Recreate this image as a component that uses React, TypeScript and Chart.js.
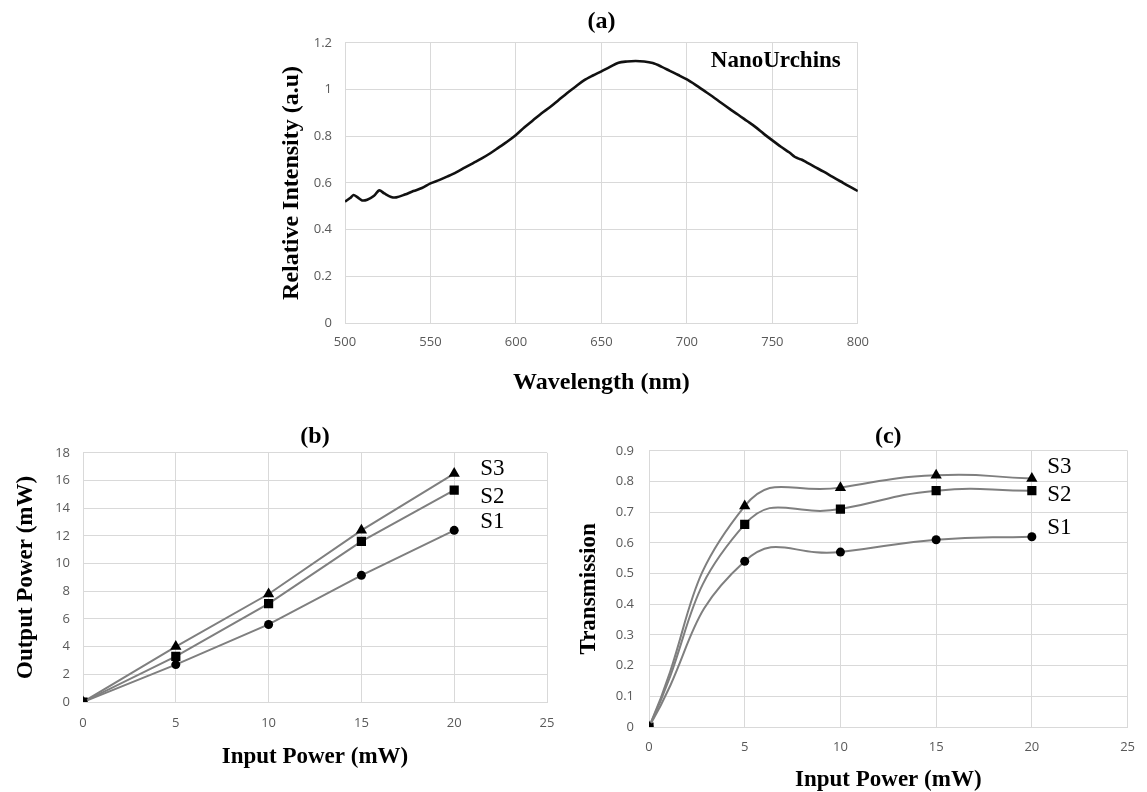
import React, { useEffect, useRef } from 'react';
import { Chart, registerables } from 'chart.js';

Chart.register(...registerables);

// ---------- Panel (a): NanoUrchins spectrum ----------
const wavelengths = [500, 503, 505, 507, 510, 513, 517, 520, 523, 527, 530, 535, 540, 545, 550, 555, 560, 565, 570, 575, 580, 585, 590, 595, 600, 605, 610, 615, 620, 625, 630, 635, 640, 645, 650, 655, 660, 665, 670, 675, 680, 685, 690, 695, 700, 705, 710, 715, 720, 725, 730, 735, 740, 745, 750, 755, 760, 763, 765, 767, 770, 775, 780, 785, 790, 795, 800];
const intensity = [0.52, 0.535, 0.548, 0.54, 0.525, 0.528, 0.545, 0.568, 0.555, 0.54, 0.538, 0.55, 0.565, 0.578, 0.598, 0.612, 0.628, 0.645, 0.665, 0.685, 0.705, 0.727, 0.752, 0.777, 0.805, 0.838, 0.868, 0.898, 0.925, 0.955, 0.985, 1.013, 1.04, 1.06, 1.078, 1.097, 1.115, 1.12, 1.122, 1.12, 1.113, 1.098, 1.08, 1.062, 1.043, 1.02, 0.995, 0.97, 0.943, 0.917, 0.892, 0.866, 0.84, 0.81, 0.782, 0.755, 0.73, 0.712, 0.705, 0.7, 0.688, 0.668, 0.648, 0.627, 0.606, 0.585, 0.565];

// ---------- Panel (b) and (c): input power series ----------
const inputPower = [0, 5, 10, 15, 20];
const outputS1 = [0, 2.7, 5.6, 9.15, 12.4];
const outputS2 = [0, 3.3, 7.1, 11.6, 15.3];
const outputS3 = [0, 4.0, 7.8, 12.4, 16.5];
const transS1 = [0, 0.54, 0.57, 0.61, 0.62];
const transS2 = [0, 0.66, 0.71, 0.77, 0.77];
const transS3 = [0, 0.72, 0.78, 0.82, 0.81];
const seriesNames = ['S1', 'S2', 'S3'];
const seriesMarkers = ['circle', 'rect', 'triangle'];
const markerRadius = [4.5, 6.5, 6.5];
// label anchors (data units) for the S1..S3 tags
const labelXB = 21.4;
const labelYB = [13.0, 14.8, 16.8];
const labelXC = 20.8;
const labelYC = [0.649, 0.757, 0.848];

const SERIF = '"Liberation Serif", "Times New Roman", serif';
const SANS = '"Open Sans", "Liberation Sans", sans-serif';
const GRID = '#d9d9d9';
const TICK = '#595959';
const LINE = '#7f7f7f';

const fmt = (v: any) => String(Number(Number(v).toFixed(2)));

const textPlugin = {
  id: 'textLabels',
  afterDatasetsDraw(chart: any, _args: any, opts: any) {
    const items = (opts && opts.items) || [];
    const { ctx, scales } = chart;
    ctx.save();
    for (const it of items) {
      ctx.font = it.font;
      ctx.fillStyle = it.color || '#000';
      ctx.textAlign = it.align || 'left';
      ctx.textBaseline = 'middle';
      ctx.fillText(it.text, scales.x.getPixelForValue(it.x), scales.y.getPixelForValue(it.y));
    }
    ctx.restore();
  },
};

function axisCommon(fontSize: number) {
  return {
    grid: { color: GRID, lineWidth: 1, drawTicks: false },
    border: { display: true, color: GRID, width: 1 },
    ticks: { font: { family: SANS, size: fontSize }, color: TICK, callback: fmt },
  };
}

function makeSeriesDatasets(series: number[][], smooth: boolean) {
  return series.map((vals, i) => ({
    label: seriesNames[i],
    data: inputPower.map((x, j) => ({ x, y: vals[j] })),
    borderColor: LINE,
    borderWidth: 2,
    pointStyle: seriesMarkers[i],
    pointRadius: markerRadius[i],
    pointBackgroundColor: '#000',
    pointBorderColor: '#000',
    pointBorderWidth: 0,
    tension: smooth ? 0.5 : 0,
  }));
}

function configA(): any {
  const c = axisCommon(13);
  return {
    type: 'line',
    data: {
      datasets: [
        {
          label: 'NanoUrchins',
          data: wavelengths.map((w, i) => ({ x: w, y: intensity[i] })),
          borderColor: '#111',
          borderWidth: 2.6,
          pointRadius: 0,
          tension: 0.3,
        },
      ],
    },
    options: {
      responsive: false,
      animation: false,
      layout: { padding: { left: 0, right: 17, top: 0, bottom: 0 } },
      plugins: {
        legend: { display: false },
        tooltip: { enabled: false },
        title: {
          display: true,
          text: '(a)',
          fullSize: false,
          color: '#000',
          font: { family: SERIF, size: 24, weight: 'bold' },
          padding: { top: 7, bottom: 7 },
        },
        textLabels: {
          items: [{ text: 'NanoUrchins', x: 752, y: 1.12, align: 'center', font: `bold 23px ${SERIF}` }],
        },
      },
      scales: {
        x: {
          type: 'linear',
          min: 500,
          max: 800,
          ...c,
          ticks: { ...c.ticks, stepSize: 50, padding: 11 },
          title: {
            display: true,
            text: 'Wavelength (nm)',
            color: '#000',
            font: { family: SERIF, size: 24, weight: 'bold' },
            padding: { top: 0, bottom: 3 },
          },
          afterFit: (s: any) => { s.height = 77; },
        },
        y: {
          type: 'linear',
          min: 0,
          max: 1.2,
          ...c,
          ticks: { ...c.ticks, stepSize: 0.2, padding: 13 },
          title: {
            display: true,
            text: 'Relative Intensity (a.u)',
            color: '#000',
            font: { family: SERIF, size: 24, weight: 'bold' },
            padding: { top: 7, bottom: 0 },
          },
          afterFit: (s: any) => { s.width = 75; },
        },
      },
    },
    plugins: [textPlugin],
  };
}

function configB(): any {
  const c = axisCommon(13);
  return {
    type: 'line',
    data: { datasets: makeSeriesDatasets([outputS1, outputS2, outputS3], false) },
    options: {
      responsive: false,
      animation: false,
      layout: { padding: { left: 0, right: 23, top: 0, bottom: 0 } },
      plugins: {
        legend: { display: false },
        tooltip: { enabled: false },
        title: {
          display: true,
          text: '(b)',
          fullSize: false,
          color: '#000',
          font: { family: SERIF, size: 24, weight: 'bold' },
          padding: { top: 22, bottom: 2 },
        },
        textLabels: {
          items: seriesNames.map((n, i) => ({ text: n, x: labelXB, y: labelYB[i], align: 'left', font: `23px ${SERIF}` })),
        },
      },
      scales: {
        x: {
          type: 'linear',
          min: 0,
          max: 25,
          ...c,
          ticks: { ...c.ticks, stepSize: 5, padding: 13 },
          title: {
            display: true,
            text: 'Input Power (mW)',
            color: '#000',
            font: { family: SERIF, size: 23, weight: 'bold' },
            padding: { top: 0, bottom: 21 },
          },
          afterFit: (s: any) => { s.height = 90; },
        },
        y: {
          type: 'linear',
          min: 0,
          max: 18,
          ...c,
          ticks: { ...c.ticks, stepSize: 2, padding: 13 },
          title: {
            display: true,
            text: 'Output Power (mW)',
            color: '#000',
            font: { family: SERIF, size: 23, weight: 'bold' },
            padding: { top: 12, bottom: 0 },
          },
          afterFit: (s: any) => { s.width = 83; },
        },
      },
    },
    plugins: [textPlugin],
  };
}

function configC(): any {
  const c = axisCommon(13);
  return {
    type: 'line',
    data: { datasets: makeSeriesDatasets([transS1, transS2, transS3], true) },
    options: {
      responsive: false,
      animation: false,
      layout: { padding: { left: 0, right: 12, top: 0, bottom: 0 } },
      plugins: {
        legend: { display: false },
        tooltip: { enabled: false },
        title: {
          display: true,
          text: '(c)',
          fullSize: false,
          color: '#000',
          font: { family: SERIF, size: 24, weight: 'bold' },
          padding: { top: 22, bottom: 0 },
        },
        textLabels: {
          items: seriesNames.map((n, i) => ({ text: n, x: labelXC, y: labelYC[i], align: 'left', font: `23px ${SERIF}` })),
        },
      },
      scales: {
        x: {
          type: 'linear',
          min: 0,
          max: 25,
          ...c,
          ticks: { ...c.ticks, stepSize: 5, padding: 12 },
          title: {
            display: true,
            text: 'Input Power (mW)',
            color: '#000',
            font: { family: SERIF, size: 23, weight: 'bold', lineHeight: 1 },
            padding: { top: 0, bottom: 0 },
          },
          afterFit: (s: any) => { s.height = 65; },
        },
        y: {
          type: 'linear',
          min: 0,
          max: 0.9,
          ...c,
          ticks: { ...c.ticks, stepSize: 0.1, padding: 15 },
          title: {
            display: true,
            text: 'Transmission',
            color: '#000',
            font: { family: SERIF, size: 23, weight: 'bold' },
            padding: { top: 0, bottom: 0 },
          },
          afterFit: (s: any) => { s.width = 74; },
        },
      },
    },
    plugins: [textPlugin],
  };
}

function Panel(props: { left: number; top: number; width: number; height: number; make: () => any }) {
  const ref = useRef<HTMLCanvasElement | null>(null);
  useEffect(() => {
    if (!ref.current) return;
    const chart = new Chart(ref.current, props.make());
    return () => chart.destroy();
  }, []);
  return (
    <canvas
      ref={ref}
      width={props.width}
      height={props.height}
      style={{ position: 'absolute', left: props.left, top: props.top, width: props.width, height: props.height }}
    />
  );
}

export default function App() {
  return (
    <div style={{ position: 'absolute', left: 0, top: 0, width: 1147, height: 792, background: '#fff', overflow: 'hidden' }}>
      <Panel left={270} top={0} width={610} height={400} make={configA} />
      <Panel left={0} top={400} width={570} height={392} make={configB} />
      <Panel left={575} top={400} width={572} height={392} make={configC} />
    </div>
  );
}
